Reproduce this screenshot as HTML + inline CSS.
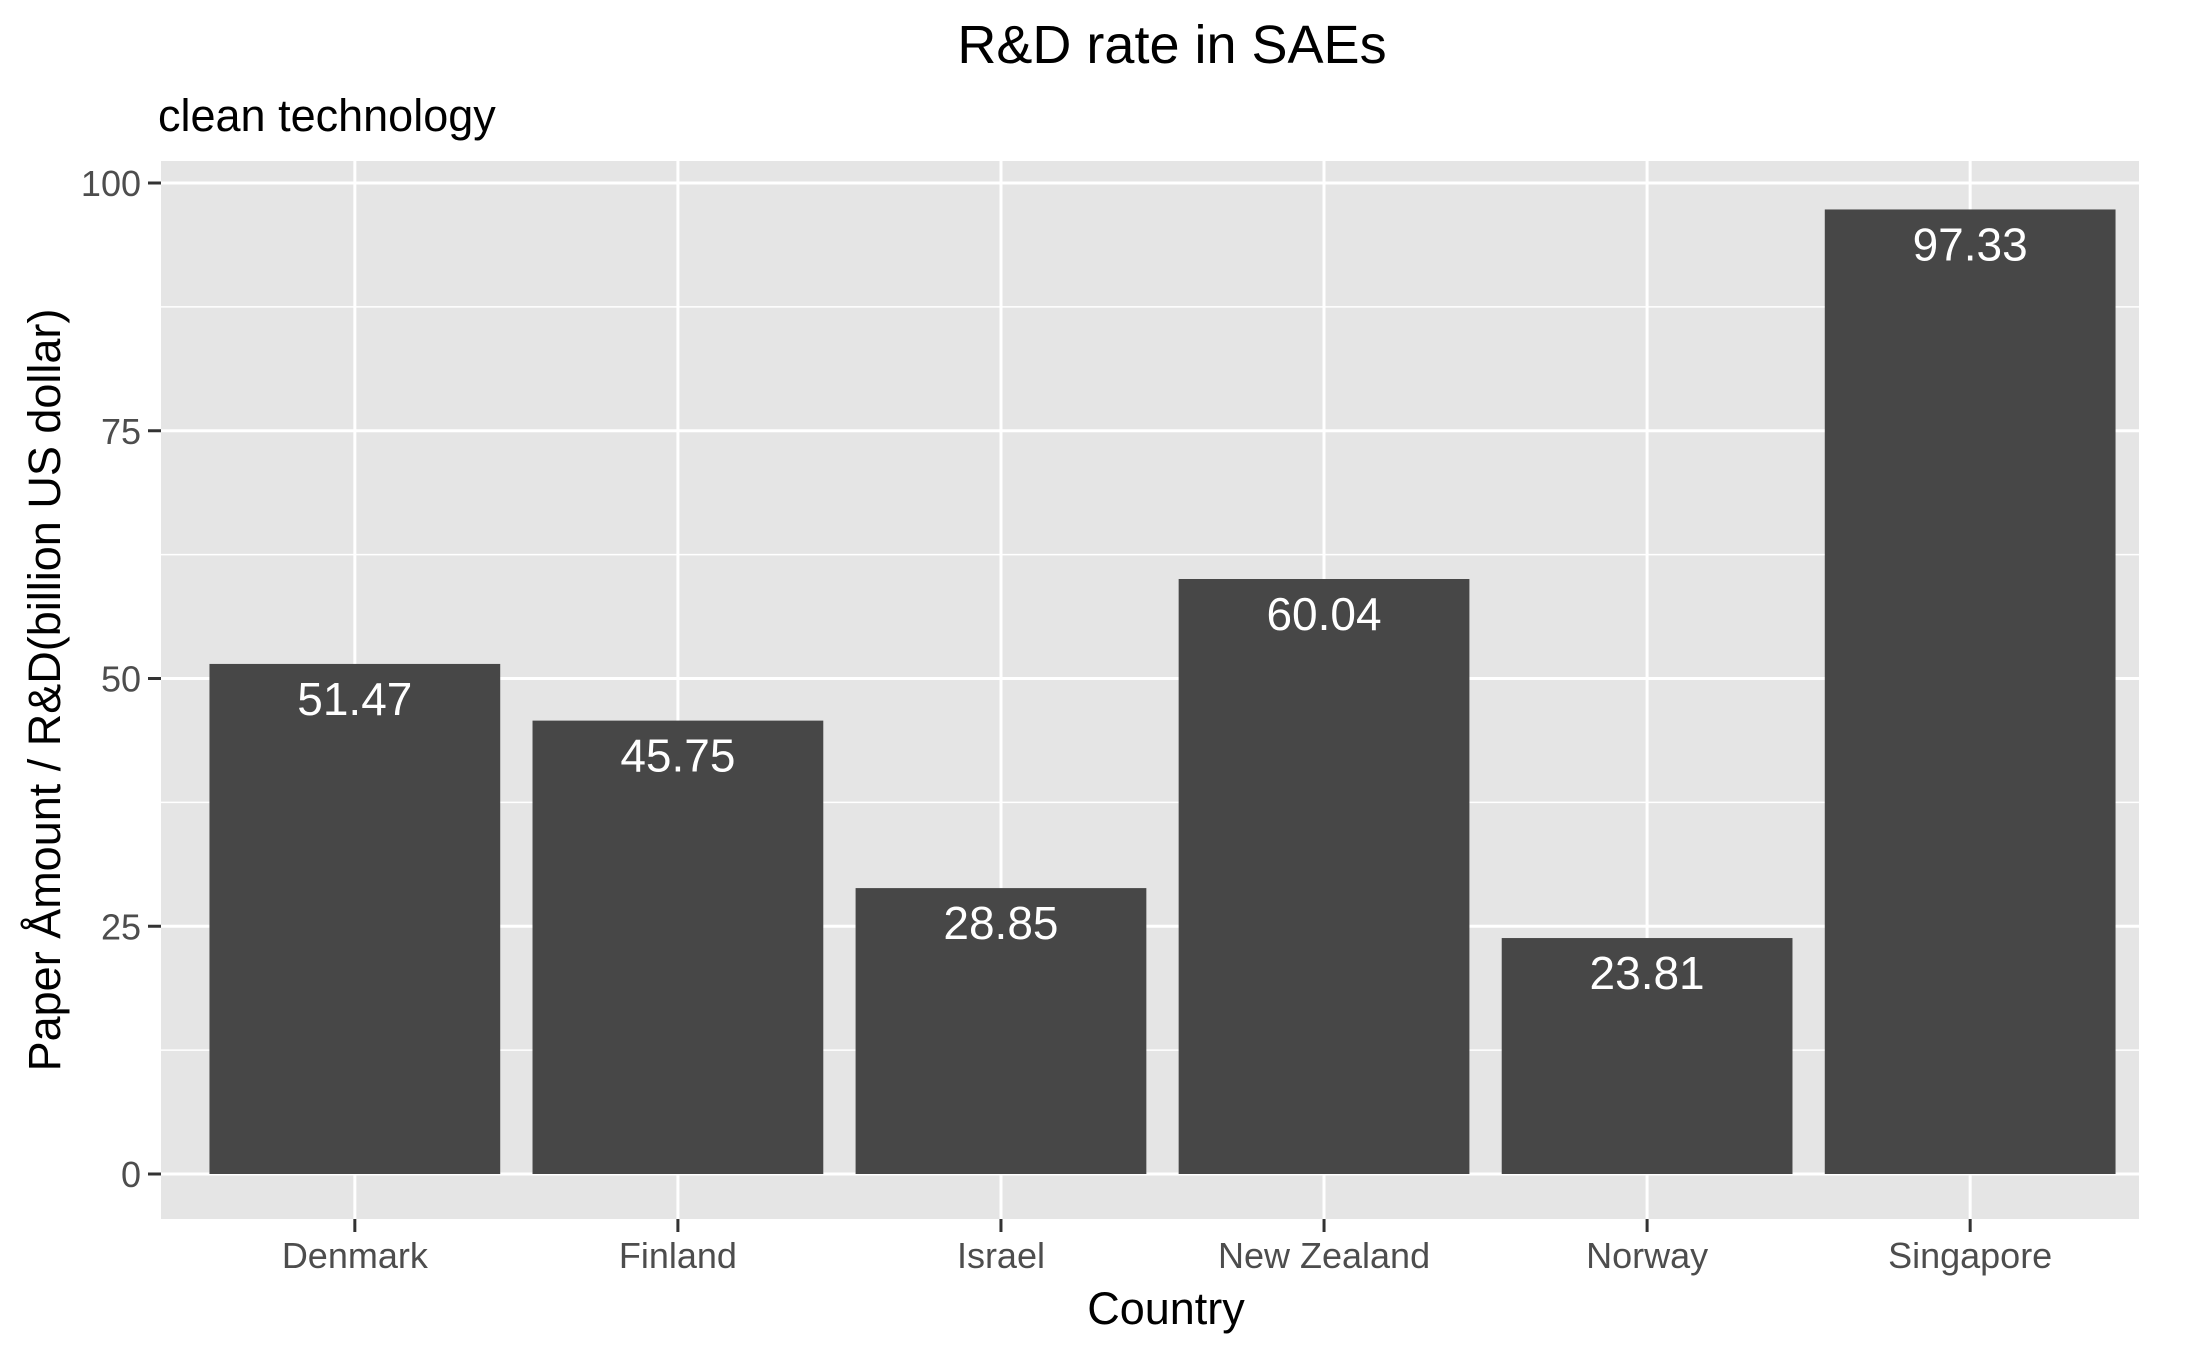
<!DOCTYPE html>
<html><head><meta charset="utf-8"><style>
html,body{margin:0;padding:0;background:#fff}
svg{display:block;font-family:"Liberation Sans",Arial,sans-serif}
</style></head><body>
<svg id="chart" width="2187" height="1351" viewBox="0 0 2187 1351">
<rect x="0" y="0" width="2187" height="1351" fill="#fff"/>
<text x="1172" y="63" font-size="54" text-anchor="middle" fill="#000">R&amp;D rate in SAEs</text>
<text x="158" y="131" font-size="45" fill="#000">clean technology</text>
<rect x="161" y="161" width="1978" height="1058" fill="#e5e5e5"/>
<g id="grid"></g>
<g id="bars"></g>
<g id="axes"></g>
<text x="1166" y="1324" font-size="45" text-anchor="middle" fill="#000">Country</text>
<text transform="translate(60,690) rotate(-90)" font-size="45" text-anchor="middle" fill="#000">Paper Åmount / R&amp;D(billion US dollar)</text>
</svg>
<script>
const categories = ["Denmark","Finland","Israel","New Zealand","Norway","Singapore"];
const values = [51.47,45.75,28.85,60.04,23.81,97.33];
const valueLabels = ["51.47","45.75","28.85","60.04","23.81","97.33"];
const yTicks = [0,25,50,75,100];
const yTickLabels = ["0","25","50","75","100"];

const NS="http://www.w3.org/2000/svg";
const panelL=161, panelR=2139, panelT=161, panelB=1219;
const y0px=1174, y100px=183;
const unit=(2164-161)/(categories.length+0.2);
function yScale(v){return y0px+(y100px-y0px)*v/100;}
function xScale(i){return 161+unit*(0.6+i);}
function mk(tag,attrs,parent){const e=document.createElementNS(NS,tag);for(const k in attrs)e.setAttribute(k,attrs[k]);parent.appendChild(e);return e;}
const grid=document.getElementById('grid'), bars=document.getElementById('bars'), axes=document.getElementById('axes');
for(let i=0;i<yTicks.length-1;i++){
  const m=(yTicks[i]+yTicks[i+1])/2;
  const l=mk('line',{x1:panelL,x2:panelR,y1:yScale(m),y2:yScale(m),stroke:'#fff','stroke-width':1.5},grid);
  
  
}
yTicks.forEach((t,i)=>{
  const y=yScale(t);
  const l=mk('line',{x1:panelL,x2:panelR,y1:y,y2:y,stroke:'#fff','stroke-width':3},grid);
  
  
  const tk=mk('line',{x1:panelL-13,x2:panelL,y1:y,y2:y,stroke:'#333','stroke-width':3},axes);
  
  
  const tx=mk('text',{x:panelL-20,y:y+13,'font-size':36,'text-anchor':'end',fill:'#4d4d4d'},axes);
  tx.textContent=yTickLabels[i];
  
  
});
categories.forEach((c,i)=>{
  const x=xScale(i);
  const l=mk('line',{x1:x,x2:x,y1:panelT,y2:panelB,stroke:'#fff','stroke-width':3},grid);
  
  
  const w=unit*0.9, top=yScale(values[i]);
  const r=mk('rect',{x:x-w/2,y:top,width:w,height:y0px-top,fill:'#474747'},bars);
  
  
  const vt=mk('text',{x:x,y:top+51,'font-size':46,'text-anchor':'middle',fill:'#fff'},bars);
  vt.textContent=valueLabels[i];
  
  
  const tk=mk('line',{x1:x,x2:x,y1:panelB,y2:panelB+13,stroke:'#333','stroke-width':3},axes);
  
  
  const tx=mk('text',{x:x,y:1268,'font-size':36,'text-anchor':'middle',fill:'#4d4d4d'},axes);
  tx.textContent=c;
  
  
});
</script>
</body></html>
